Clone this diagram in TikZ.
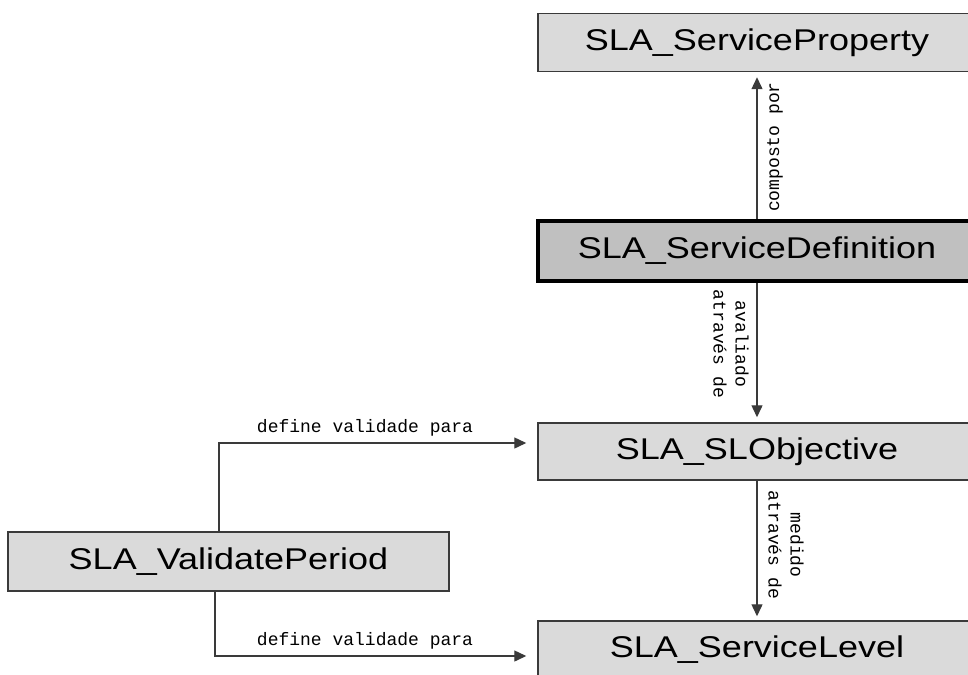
\documentclass[tikz,border=0pt]{standalone}
\usepackage{fontspec}
\setmainfont{Liberation Sans}
\newfontfamily\boxfont[FakeStretch=1.2]{Liberation Sans}
\newfontfamily\labfont{Liberation Mono}
\usetikzlibrary{arrows.meta,calc}
\definecolor{boxfill}{HTML}{DADADA}
\definecolor{keyfill}{HTML}{C0C0C0}
\definecolor{edge}{HTML}{3A3A3A}
\begin{document}
\begin{tikzpicture}[x=1pt,y=-1pt,
  cls/.style={draw=edge,line width=1.5pt,fill=boxfill,minimum width=438pt,minimum height=58pt,inner sep=0pt,font=\boxfont\fontsize{30}{34}\selectfont},
  keycls/.style={cls,draw=black,line width=4pt,fill=keyfill,minimum height=60pt},
  conn/.style={draw=edge,line width=1.4pt,-{Triangle[length=12pt,width=11pt]}},
  lab/.style={inner sep=0pt,font=\labfont\fontsize{18}{22}\selectfont,align=center}]
\useasboundingbox (0,0) rectangle (968,674);
\clip (0,0) rectangle (968,674);
\fill[white] (0,0) rectangle (968,674);
\node[cls] (sp) at (757,42.5) {SLA\_ServiceProperty};
\node[keycls] (sd) at (757,251) {SLA\_ServiceDefinition};
\node[cls,minimum height=57pt] (so) at (757,451.5) {SLA\_SLObjective};
\node[cls] (sl) at (757,650) {SLA\_ServiceLevel};
\node[cls,minimum width=441pt,minimum height=59pt] (vp) at (228.5,561.5) {SLA\_ValidatePeriod};
\draw[conn,shorten >=5pt] (sd.north) -- (sp.south);
\draw[conn,shorten >=5pt] (sd.south) -- (so.north);
\draw[conn,shorten >=4pt] (so.south) -- (sl.north);
\draw[conn,shorten >=11pt] ([xshift=-9.5pt]vp.north) |- ([yshift=8.5pt]so.west);
\draw[conn,shorten >=11pt] ([xshift=-13.5pt]vp.south) |- ([yshift=-6pt]sl.west);
\node[lab] (l1) at (365,428) {define validade para};
\node[lab] (l2) at (365,641) {define validade para};
\node[lab,rotate=90] (l3) at (775,147) {composto por};
\node[lab,rotate=-90] (l4) at (731,344) {avaliado\\através de};
\node[lab,rotate=-90] (l5) at (786,545) {medido\\através de};
\end{tikzpicture}
\end{document}
